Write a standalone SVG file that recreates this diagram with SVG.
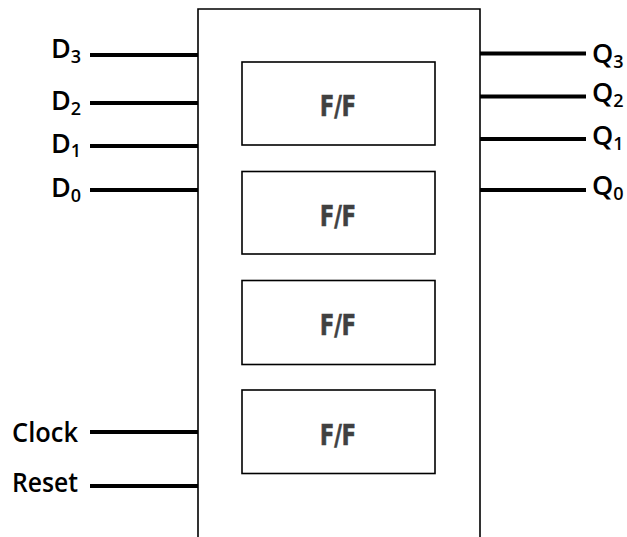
<svg xmlns="http://www.w3.org/2000/svg" width="627" height="537" viewBox="0 0 627 537">
<style>
.wire{stroke:#000;stroke-width:4;fill:none}
.frame{stroke:#000;stroke-width:1.6;fill:#fff}
.ff{stroke:#000;stroke-width:1.6;fill:#fff}
.fft{font-family:"DejaVu Sans Condensed","DejaVu Sans",sans-serif;font-weight:bold;font-size:28px;fill:#404040;stroke:#404040;stroke-width:0.6;text-anchor:middle}
.lbl{font-family:"Open Sans","Noto Sans",sans-serif;font-weight:600;font-size:27px;fill:#000}
.sub{font-size:18px}
</style>
<rect width="627" height="537" fill="#fff"/>
<g id="register">
<path class="frame" d="M198,540 V9 H480 V540"/>
</g>
<g id="ff3"><rect class="ff" x="242" y="62" width="193" height="83"/><text class="fft" x="338" y="116" textLength="36" lengthAdjust="spacingAndGlyphs">F/F</text></g>
<g id="ff2"><rect class="ff" x="242" y="171.5" width="193" height="82.5"/><text class="fft" x="338" y="226" textLength="36" lengthAdjust="spacingAndGlyphs">F/F</text></g>
<g id="ff1"><rect class="ff" x="242" y="280.5" width="193" height="84"/><text class="fft" x="338" y="335" textLength="36" lengthAdjust="spacingAndGlyphs">F/F</text></g>
<g id="ff0"><rect class="ff" x="242" y="390" width="193" height="83.5"/><text class="fft" x="338" y="445" textLength="36" lengthAdjust="spacingAndGlyphs">F/F</text></g>
<g id="connectors">
<line class="wire" x1="90" y1="55" x2="198" y2="55"/>
<line class="wire" x1="90" y1="103" x2="198" y2="103"/>
<line class="wire" x1="90" y1="146" x2="198" y2="146"/>
<line class="wire" x1="90" y1="190" x2="198" y2="190"/>
<line class="wire" x1="90" y1="432" x2="198" y2="432"/>
<line class="wire" x1="90" y1="486" x2="198" y2="486"/>
<line class="wire" x1="480" y1="53.5" x2="586" y2="53.5"/>
<line class="wire" x1="480" y1="96.5" x2="586" y2="96.5"/>
<line class="wire" x1="480" y1="139" x2="586" y2="139"/>
<line class="wire" x1="480" y1="190" x2="586" y2="190"/>
</g>
<g id="inputs">
<text class="lbl" x="51" y="58">D<tspan class="sub" dy="5">3</tspan></text>
<text class="lbl" x="51" y="110">D<tspan class="sub" dy="5">2</tspan></text>
<text class="lbl" x="51" y="153">D<tspan class="sub" dy="4">1</tspan></text>
<text class="lbl" x="51" y="197">D<tspan class="sub" dy="5">0</tspan></text>
<text class="lbl" x="12" y="442" textLength="66" lengthAdjust="spacingAndGlyphs">Clock</text>
<text class="lbl" x="12" y="492" textLength="66" lengthAdjust="spacingAndGlyphs">Reset</text>
</g>
<g id="outputs">
<text class="lbl" x="592" y="63">Q<tspan class="sub" dy="5">3</tspan></text>
<text class="lbl" x="592" y="102">Q<tspan class="sub" dy="5">2</tspan></text>
<text class="lbl" x="592" y="145">Q<tspan class="sub" dy="5">1</tspan></text>
<text class="lbl" x="592" y="195">Q<tspan class="sub" dy="5">0</tspan></text>
</g>
</svg>
